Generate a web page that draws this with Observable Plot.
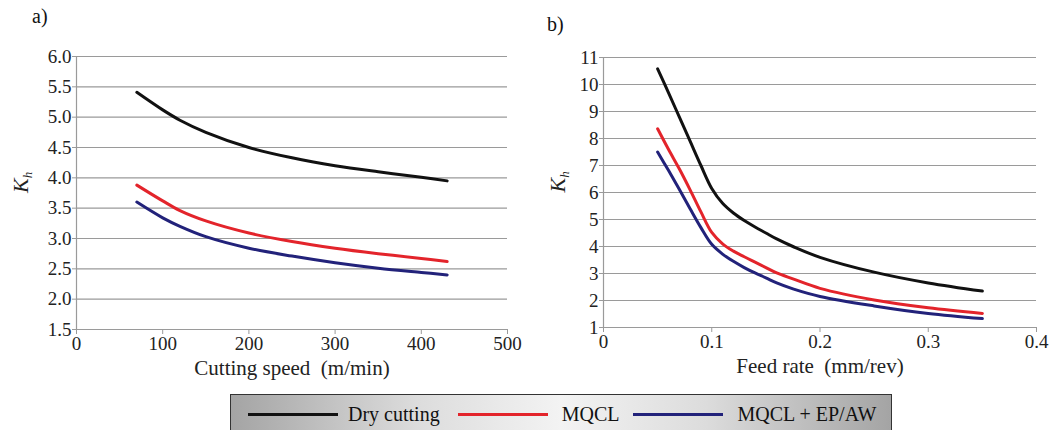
<!DOCTYPE html>
<html>
<head>
<meta charset="utf-8">
<script src="https://cdn.jsdelivr.net/npm/d3@7"></script>
<script src="https://cdn.jsdelivr.net/npm/@observablehq/plot@0.6"></script>
<style>
  html, body { margin: 0; padding: 0; background: #fff; overflow: hidden; }
  #wrap { position: relative; width: 1063px; height: 430px; overflow: hidden; font-family: "Liberation Serif", "Times New Roman", "DejaVu Serif", serif; }
  .panel { position: absolute; top: 0; }
  .plab { position: absolute; font-size: 20px; color: #111; font-family: "Liberation Serif", "DejaVu Serif", serif; }
  #legend { position: absolute; left: 230px; top: 394px; width: 662px; height: 40px; box-sizing: border-box;
    border: 1.5px solid #333; background: linear-gradient(to right, #a4a4a4 0%, #dcdcdc 28%, #f3f3f3 50%, #dcdcdc 72%, #a4a4a4 100%);
    display: flex; align-items: center; font-size: 20px; color: #111; white-space: nowrap;
    font-family: "Liberation Serif", "DejaVu Serif", serif; }
  #legend span { flex-shrink: 0; }
  .sw { display: inline-block; width: 90px; height: 3px; }
</style>
</head>
<body>
<div id="wrap">
  <div class="plab" style="left:32px; top:5px;">a)</div>
  <div class="plab" style="left:547px; top:13px;">b)</div>
  <div id="left" class="panel" style="left:0px;"></div>
  <div id="right" class="panel" style="left:530px;"></div>
  <div id="legend"></div>
</div>
<script>
// ---- Panel a) : cutting speed ----
const speed     = [70, 100, 120, 150, 200, 250, 300, 350, 400, 430];
const speedDry  = [5.41, 5.12, 4.95, 4.75, 4.50, 4.33, 4.20, 4.10, 4.01, 3.95];
const speedMQCL = [3.88, 3.62, 3.46, 3.29, 3.09, 2.95, 2.84, 2.75, 2.67, 2.62];
const speedEP   = [3.60, 3.34, 3.20, 3.03, 2.84, 2.71, 2.60, 2.51, 2.44, 2.40];
const speedXTicks = [0, 100, 200, 300, 400, 500];
const speedYTicks = [1.5, 2.0, 2.5, 3.0, 3.5, 4.0, 4.5, 5.0, 5.5, 6.0];

// ---- Panel b) : feed rate ----
const feed     = [0.05, 0.06, 0.07, 0.08, 0.09, 0.10, 0.11, 0.12, 0.13, 0.14, 0.15, 0.16, 0.175, 0.20, 0.25, 0.30, 0.35];
const feedDry  = [10.58, 9.7, 8.8, 7.9, 7.0, 6.15, 5.6, 5.24, 4.96, 4.72, 4.5, 4.28, 4.0, 3.6, 3.05, 2.65, 2.35];
const feedMQCL = [8.36, 7.6, 6.88, 6.1, 5.28, 4.52, 4.1, 3.83, 3.62, 3.42, 3.22, 3.02, 2.8, 2.45, 2.02, 1.73, 1.52];
const feedEP   = [7.5, 6.82, 6.12, 5.4, 4.7, 4.08, 3.72, 3.45, 3.22, 3.02, 2.84, 2.65, 2.43, 2.15, 1.8, 1.52, 1.33];
const feedXTicks = [0, 0.1, 0.2, 0.3, 0.4];
const feedYTicks = [1, 2, 3, 4, 5, 6, 7, 8, 9, 10, 11];

const seriesNames  = ["Dry cutting", "MQCL", "MQCL + EP/AW"];
const seriesColors = ["#111111", "#e3242b", "#22227a"];

const FONT = "Liberation Serif, DejaVu Serif, serif";

function toRows(xs, ys, name) { return xs.map((x, i) => ({x, y: ys[i], s: name})); }

function panel(opts) {
  const rows = [
    ...toRows(opts.xs, opts.dry, seriesNames[0]),
    ...toRows(opts.xs, opts.mqcl, seriesNames[1]),
    ...toRows(opts.xs, opts.ep, seriesNames[2])
  ];
  const chart = Plot.plot({
    width: opts.width, height: 385,
    marginLeft: opts.ml, marginRight: opts.mr, marginTop: opts.mt, marginBottom: 385 - opts.bottom,
    style: {fontFamily: FONT, fontSize: "19px", color: "#222", background: "transparent", overflow: "visible"},
    x: {domain: opts.xDomain, ticks: opts.xTicks, label: null},
    y: {domain: opts.yDomain, ticks: opts.yTicks, label: null},
    color: {domain: seriesNames, range: seriesColors},
    marks: [
      Plot.gridY(opts.yTicks, {stroke: "#9a9a9a", strokeOpacity: 1, strokeWidth: 1.2}),
      Plot.ruleX([opts.xDomain[0]], {stroke: "#9a9a9a", strokeWidth: 1.2}),
      Plot.axisX(opts.xTicks, {tickSize: 5, tickPadding: 2, stroke: "#9a9a9a", fill: "#222", label: null,
        tickFormat: opts.xFmat, fontSize: 19, fontFamily: FONT}),
      Plot.axisY(opts.yTicks, {tickSize: 4, tickPadding: 1, stroke: "#9a9a9a", fill: "#222", label: null,
        tickFormat: opts.yFmt, fontSize: 19, fontFamily: FONT}),
      Plot.line(rows, {x: "x", y: "y", z: "s", stroke: "s", strokeWidth: 3, curve: "catmull-rom"}),
      Plot.text([opts.xLabel], {frameAnchor: "bottom", dy: 45, fontSize: 21, fill: "#222", fontFamily: FONT}),
      Plot.text(["K"], {frameAnchor: "left", dx: opts.kdx, rotate: -90, fontSize: 22, fontStyle: "italic", fill: "#222", fontFamily: FONT})
    ]
  });
  // add subscript h to the K label
  d3.select(chart).selectAll("text").filter(function() { return this.textContent === "K"; })
    .append("tspan").attr("font-size", 13).attr("baseline-shift", "-30%").text("h");
  return chart;
}

document.getElementById("left").appendChild(panel({
  width: 530, ml: 76, mr: 23, mt: 56, bottom: 329,
  xs: speed, dry: speedDry, mqcl: speedMQCL, ep: speedEP,
  xDomain: [0, 500], yDomain: [1.5, 6], xTicks: speedXTicks, yTicks: speedYTicks,
  xFmat: d => String(d), yFmt: d3.format(".1f"),
  xLabel: "Cutting speed\u00a0 (m/min)", kdx: -56
}));

document.getElementById("right").appendChild(panel({
  width: 533, ml: 73, mr: 27, mt: 57, bottom: 327,
  xs: feed, dry: feedDry, mqcl: feedMQCL, ep: feedEP,
  xDomain: [0, 0.4], yDomain: [1, 11], xTicks: feedXTicks, yTicks: feedYTicks,
  xFmat: d => (d === 0 ? "0" : d3.format(".1f")(d)), yFmt: d => String(d),
  xLabel: "Feed rate\u00a0 (mm/rev)", kdx: -46
}));

// legend
const legend = document.getElementById("legend");
const gaps = [[17, 10], [18, 14], [14, 14]];
seriesNames.forEach((name, i) => {
  const sw = document.createElement("span");
  sw.className = "sw";
  sw.style.background = seriesColors[i];
  sw.style.marginLeft = gaps[i][0] + "px";
  const t = document.createElement("span");
  t.textContent = name;
  t.style.marginLeft = gaps[i][1] + "px";
  legend.appendChild(sw);
  legend.appendChild(t);
});
</script>
</body>
</html>
